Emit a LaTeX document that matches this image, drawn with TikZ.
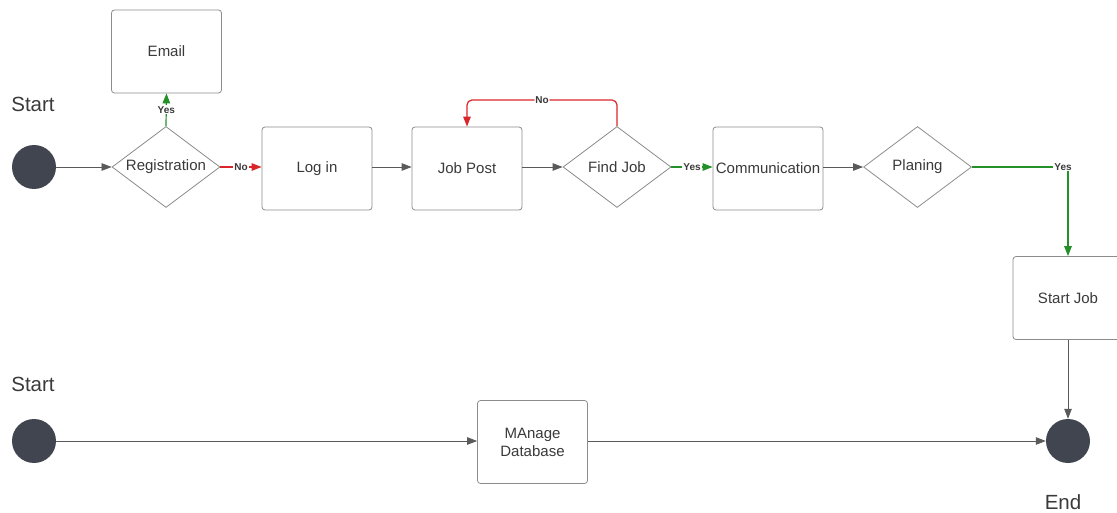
\documentclass[tikz,border=0pt]{standalone}
\usepackage{fontspec}
\setmainfont{Liberation Sans}
\usetikzlibrary{shapes.geometric,arrows.meta}
\definecolor{boxgray}{HTML}{8C8C8C}
\definecolor{linegray}{HTML}{5A5A5A}
\definecolor{dotgray}{HTML}{40454F}
\definecolor{txtgray}{HTML}{3A3A3A}
\definecolor{nored}{HTML}{D8262B}
\definecolor{yesgreen}{HTML}{23902A}
\begin{document}
\begin{tikzpicture}[x=1pt,y=-1pt]

% definitions
\tikzstyle{process} = [rectangle, rounded corners=3pt, minimum width=110pt, minimum height=83pt, text centered, draw=boxgray, fill=white, text=txtgray, font=\fontsize{15}{18}\selectfont, inner sep=1pt, line width=0.8pt]

\tikzstyle{decision} = [diamond, aspect=1.33, minimum width=108pt, minimum height=81pt, text centered, draw=boxgray, fill=white, text=txtgray, font=\fontsize{15}{18}\selectfont, inner sep=0pt, line width=0.8pt]

\tikzstyle{terminal} = [circle, minimum size=44pt, fill=dotgray, inner sep=0pt]

\tikzstyle{caption} = [text=txtgray, font=\fontsize{20.5}{24}\selectfont]

\tikzstyle{arrow} = [-{Triangle[length=10pt,width=7.5pt]}, draw=linegray, line width=0.8pt]

\tikzstyle{noarrow} = [-{Triangle[length=10pt,width=7.5pt]}, draw=nored, line width=1.2pt]

\tikzstyle{yesarrow} = [-{Triangle[length=10pt,width=7.5pt]}, draw=yesgreen, line width=1.2pt]

\tikzstyle{answer} = [fill=white, inner sep=1pt, text=txtgray, font=\fontsize{10}{12}\selectfont\bfseries]

\useasboundingbox (0,0) rectangle (1117,513);

% the graph
\node (st1) [caption] at (33,104) {Start};
\node (s1) [terminal] at (34,167) {};

\node (reg) [decision] at (166,167) {Registration};
\node (email) [process] at (166.5,51.5) {Email};
\node (login) [process] at (317,168.5) {Log in};
\node (jobpost) [process] at (467,168.5) {Job Post};
\node (findjob) [decision] at (617,167) {Find Job};
\node (comm) [process] at (768,168.5) {Communication};
\node (plan) [decision] at (917.5,167) {Planing};
\node (startjob) [process] at (1068,298) {Start Job};

\node (st2) [caption] at (33,384) {Start};
\node (s2) [terminal] at (34,441) {};
\node (db) [process, text width=100pt] at (532.5,442) {MAnage\\Database};
\node (e1) [terminal] at (1068,441) {};
\node (end) [caption] at (1063,502) {End};

\coordinate (nobend) at (542,100);

\draw [arrow] (s1) -- (reg);
\draw [yesarrow] (reg.north) -- node[answer] {Yes} (email.south);
\draw [noarrow] (reg.east) -- node[answer] {No} (login.west |- reg.east);
\draw [arrow] (login.east |- reg.east) -- (jobpost.west |- reg.east);
\draw [arrow] (jobpost.east |- reg.east) -- (findjob.west);
\draw [noarrow, rounded corners=5pt] (findjob.north) |- (nobend) node[answer] {No} -| (jobpost.north);
\draw [yesarrow] (findjob.east) -- node[answer] {Yes} (comm.west |- findjob.east);
\draw [arrow] (comm.east |- findjob.east) -- (plan.west);
\draw [yesarrow] (plan.east) -| node[answer, pos=0.5, xshift=-5pt] {Yes} (startjob.north);
\draw [arrow] (startjob.south) -- (e1.north);

\draw [arrow] (s2) -- (db.west |- s2);
\draw [arrow] (db.east |- s2) -- (e1.west);

\end{tikzpicture}
\end{document}
